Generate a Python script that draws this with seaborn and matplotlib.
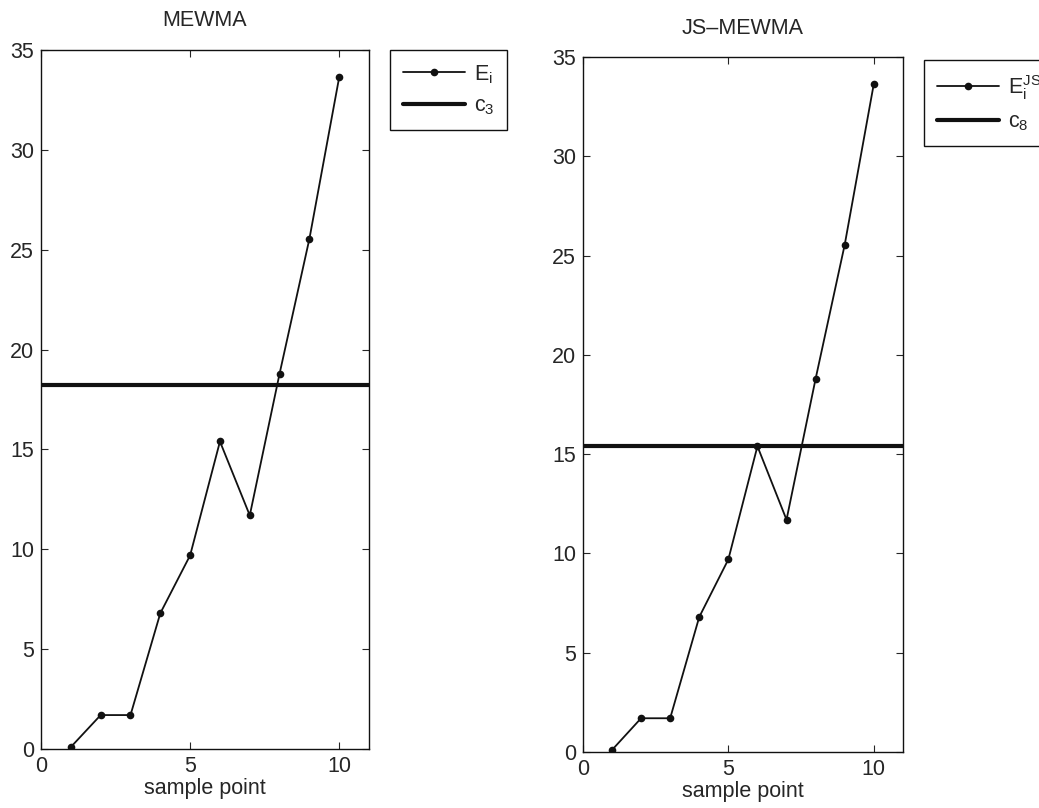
import numpy as np
import pandas as pd
import matplotlib
matplotlib.use("Agg")
import matplotlib.pyplot as plt
import seaborn as sns

# data
sample_points = [1, 2, 3, 4, 5, 6, 7, 8, 9, 10]
mewma_stat = [0.1, 1.7, 1.7, 6.8, 9.7, 15.4, 11.7, 18.8, 25.55, 33.65]
js_mewma_stat = [0.1, 1.7, 1.7, 6.8, 9.7, 15.4, 11.7, 18.8, 25.55, 33.65]
c3_limit = 18.25
c8_limit = 15.42

titles = ["MEWMA", "JS\u2013MEWMA"]
stat_labels = [r"$\mathrm{E_i}$", r"$\mathrm{E_i^{JS}}$"]
limit_labels = [r"$\mathrm{c_3}$", r"$\mathrm{c_8}$"]

sns.set_style("ticks")
plt.rcParams["font.family"] = ["Liberation Sans", "DejaVu Sans"]
plt.rcParams["mathtext.fontset"] = "custom"
plt.rcParams["mathtext.rm"] = "Liberation Sans"
plt.rcParams["mathtext.it"] = "Liberation Sans"

fig = plt.figure(figsize=(10.39, 8.08), dpi=100)
ax_pos = [[0.0395, 0.073, 0.3157, 0.865], [0.561, 0.0693, 0.308, 0.860]]
legend_pos = [(0.375, 0.938), (0.889, 0.926)]

series = [mewma_stat, js_mewma_stat]
limits = [c3_limit, c8_limit]

for k in range(2):
    ax = fig.add_axes(ax_pos[k])
    df = pd.DataFrame({"sample": sample_points, "stat": series[k]})
    sns.lineplot(data=df, x="sample", y="stat", ax=ax, color="#111111",
                 marker="o", markersize=5.5, markeredgewidth=0, linewidth=1.3,
                 label=stat_labels[k])
    ax.axhline(limits[k], color="#111111", linewidth=3, label=limit_labels[k])
    ax.set_xlim(0, 11)
    ax.set_ylim(0, 35)
    ax.set_xticks([0, 5, 10])
    ax.set_yticks(np.arange(0, 36, 5))
    ax.set_xlabel("sample point", fontsize=15.5, labelpad=1)
    ax.set_ylabel("")
    ax.set_title(titles[k], fontsize=15.5, pad=17)
    ax.tick_params(direction="in", top=True, right=True, labelsize=15.5,
                   length=5, width=0.8, pad=5)
    for s in ax.spines.values():
        s.set_linewidth(1.0)
        s.set_color("#111111")
    leg = ax.legend(loc="upper left", bbox_to_anchor=legend_pos[k],
                    bbox_transform=fig.transFigure, fontsize=15.5, frameon=True,
                    fancybox=False, edgecolor="#111111", framealpha=1,
                    handlelength=2.9, borderpad=0.6, labelspacing=0.45,
                    handletextpad=0.4, borderaxespad=0)
    leg.get_frame().set_linewidth(1.0)

fig.savefig("out.png", dpi=100)
